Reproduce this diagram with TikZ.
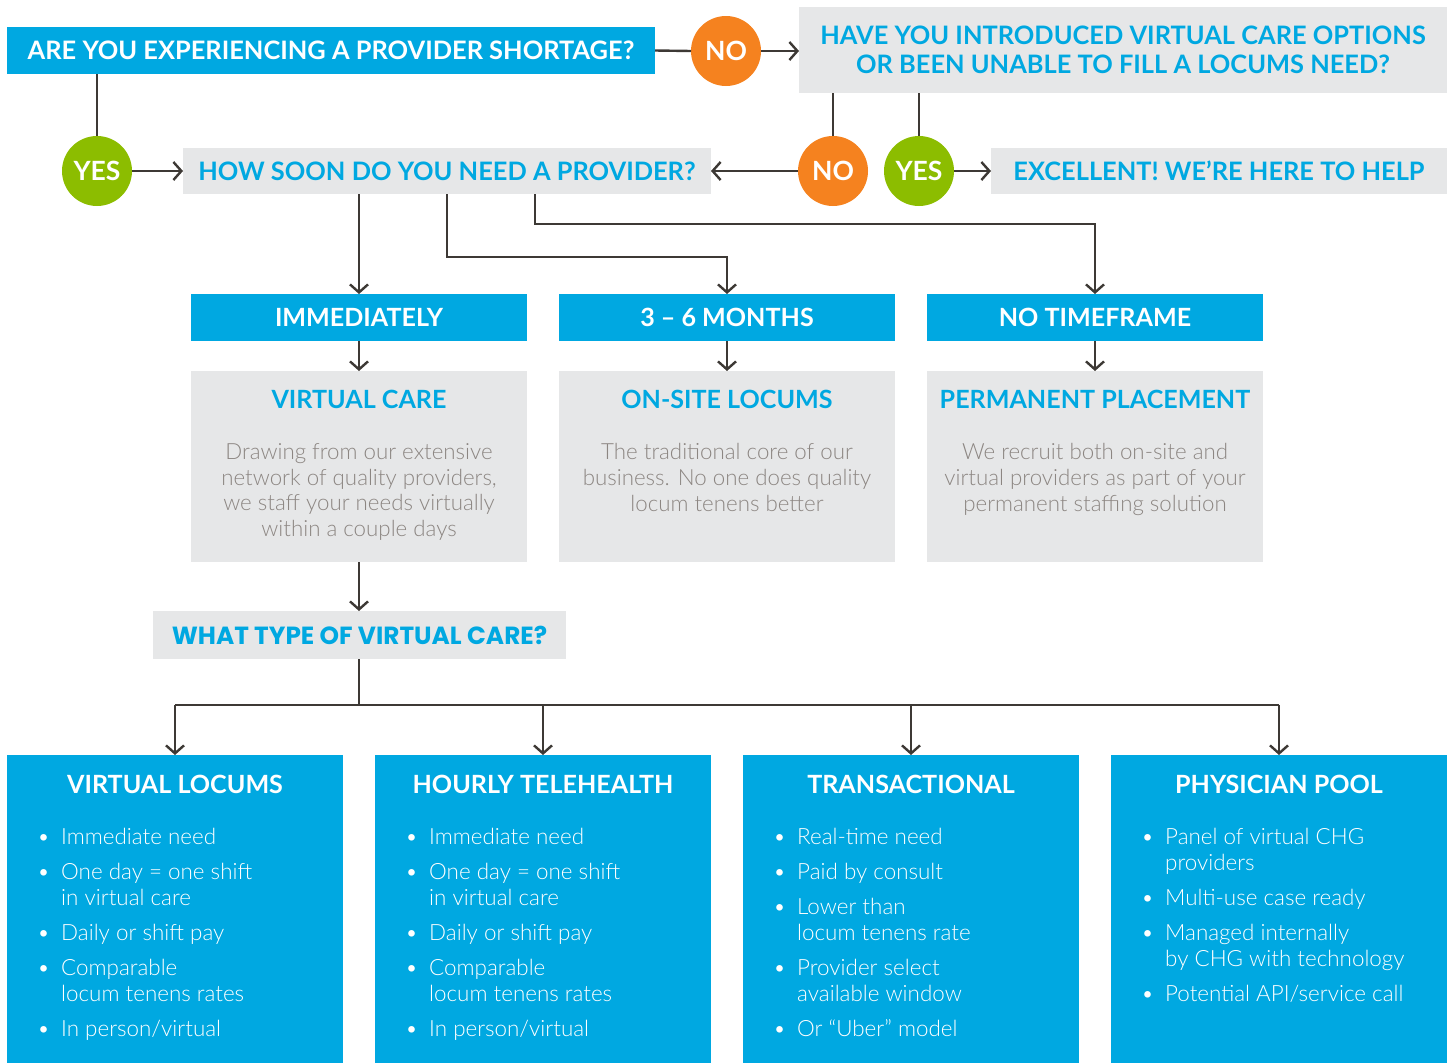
\documentclass[tikz,border=0pt]{standalone}
\usepackage{fontspec}
\setmainfont{Lato}
\IfFontExistsTF{Lato Light}{\newfontfamily\lightfam{Lato Light}}{\newfontfamily\lightfam{Lato}}
\newfontfamily\wtfam{Poppins}
\usetikzlibrary{arrows.meta}
\definecolor{cblue}{HTML}{00A8E1}
\definecolor{cgray}{HTML}{E6E7E8}
\definecolor{corange}{HTML}{F5821F}
\definecolor{cgreen}{HTML}{8CBD00}
\definecolor{ctext}{HTML}{8C8682}
\definecolor{cline}{HTML}{3D3935}
\newcommand\hdfont{\bfseries\fontsize{25.4}{29}\selectfont}
\newcommand\smhdfont{\bfseries\fontsize{25.1}{28}\selectfont}
\newcommand\ccfont{\bfseries\fontsize{26.5}{28}\selectfont}
\newcommand\dscfont{\lightfam\fontsize{22.3}{25.6}\selectfont}
\newcommand\bulfont{\lightfam\fontsize{22.4}{26}\selectfont}
\newcommand\wtfont{\wtfam\bfseries\fontsize{24.8}{26}\selectfont}
\newcommand\bl{\makebox[24pt][l]{\textbullet}}
\newcommand\ind{\hspace*{24pt}}
\tikzset{
  box/.style={rectangle, inner sep=0pt, outer sep=0pt},
  bluebox/.style={box, fill=cblue, text=white, font=\hdfont},
  graybox/.style={box, fill=cgray, text=cblue, font=\hdfont},
  dot/.style={circle, minimum size=70pt, inner sep=0pt, outer sep=0pt, text=white, font=\ccfont},
  noc/.style={dot, fill=corange},
  yesc/.style={dot, fill=cgreen},
  conn/.style={draw=cline, line width=2.4pt},
  arr/.style={conn, -{Straight Barb[length=8pt,width=18pt]}},
  dtitle/.style={text=cblue, font=\smhdfont, inner sep=0pt},
  dbody/.style={text=ctext, font=\dscfont, align=center, inner sep=0pt, anchor=north},
  btitle/.style={text=white, font=\smhdfont, inner sep=0pt},
  bbody/.style={text=white, font=\bulfont, align=left, inner sep=0pt, anchor=north west},
}
\begin{document}
\begin{tikzpicture}[x=1pt,y=-1pt]
\useasboundingbox (0,0) rectangle (1450,1063);
% top row
\node[bluebox, minimum width=648pt, minimum height=47pt] (q1) at (331,50.5) {ARE YOU EXPERIENCING A PROVIDER SHORTAGE?};
\node[noc] (no1) at (726,51) {NO};
\node[graybox, minimum width=648pt, minimum height=86pt, align=center] (q2) at (1123,50) {HAVE YOU INTRODUCED VIRTUAL CARE OPTIONS\\OR BEEN UNABLE TO FILL A LOCUMS NEED?};
% second row
\node[yesc] (yes1) at (97,171) {YES};
\node[graybox, minimum width=528pt, minimum height=46pt] (q3) at (447,171) {HOW SOON DO YOU NEED A PROVIDER?};
\node[noc] (no2) at (833,171) {NO};
\node[yesc] (yes2) at (919,171) {YES};
\node[graybox, minimum width=456pt, minimum height=46pt] (q4) at (1219,171) {EXCELLENT! WE’RE HERE TO HELP};
% timeframe row
\node[bluebox, font=\smhdfont, minimum width=336pt, minimum height=47pt] (t1) at (359,317.5) {IMMEDIATELY};
\node[bluebox, font=\smhdfont, minimum width=336pt, minimum height=47pt] (t2) at (727,317.5) {3 – 6 MONTHS};
\node[bluebox, font=\smhdfont, minimum width=336pt, minimum height=47pt] (t3) at (1095,317.5) {NO TIMEFRAME};
% description boxes
\node[box, fill=cgray, minimum width=336pt, minimum height=191pt] (d1) at (359,466.5) {};
\node[box, fill=cgray, minimum width=336pt, minimum height=191pt] (d2) at (727,466.5) {};
\node[box, fill=cgray, minimum width=336pt, minimum height=191pt] (d3) at (1095,466.5) {};
\node[dtitle] (d1t) at (359,399) {VIRTUAL CARE};
\node[dtitle] (d2t) at (727,399) {ON-SITE LOCUMS};
\node[dtitle] (d3t) at (1095,399) {PERMANENT PLACEMENT};
\node[dbody] (d1b) at (359,443.5) {Drawing from our extensive\\network of quality providers,\\we staff your needs virtually\\within a couple days};
\node[dbody] (d2b) at (727,443.5) {The traditional core of our\\business. No one does quality\\locum tenens better};
\node[dbody] (d3b) at (1095,443.5) {We recruit both on-site and\\virtual providers as part of your\\permanent staffing solution};
% what type
\node[graybox, font=\wtfont, minimum width=413pt, minimum height=48pt] (q5) at (359.5,635) {WHAT TYPE OF VIRTUAL CARE?};
% bottom boxes
\node[box, fill=cblue, minimum width=336pt, minimum height=308pt] (b1) at (175,909) {};
\node[box, fill=cblue, minimum width=336pt, minimum height=308pt] (b2) at (543,909) {};
\node[box, fill=cblue, minimum width=336pt, minimum height=308pt] (b3) at (911,909) {};
\node[box, fill=cblue, minimum width=336pt, minimum height=308pt] (b4) at (1279,909) {};
\node[btitle] (b1t) at (175,784) {VIRTUAL LOCUMS};
\node[btitle] (b2t) at (543,784) {HOURLY TELEHEALTH};
\node[btitle] (b3t) at (911,784) {TRANSACTIONAL};
\node[btitle] (b4t) at (1279,784) {PHYSICIAN POOL};
\node[bbody] (b1b) at (37,827.5) {\bl Immediate need\\[9pt]\bl One day = one shift\\\ind in virtual care\\[9pt]\bl Daily or shift pay\\[9pt]\bl Comparable\\\ind locum tenens rates\\[9pt]\bl In person/virtual};
\node[bbody] (b2b) at (405,827.5) {\bl Immediate need\\[9pt]\bl One day = one shift\\\ind in virtual care\\[9pt]\bl Daily or shift pay\\[9pt]\bl Comparable\\\ind locum tenens rates\\[9pt]\bl In person/virtual};
\node[bbody] (b3b) at (773,827.5) {\bl Real-time need\\[9pt]\bl Paid by consult\\[9pt]\bl Lower than\\\ind locum tenens rate\\[9pt]\bl Provider select\\\ind available window\\[9pt]\bl Or “Uber” model};
\node[bbody] (b4b) at (1141,827.5) {\bl Panel of virtual CHG\\\ind providers\\[9pt]\bl Multi-use case ready\\[9pt]\bl Managed internally\\\ind by CHG with technology\\[9pt]\bl Potential API/service call};
% helper coordinates
\coordinate (k1) at (447,257);
\coordinate (k2) at (535,224);
\coordinate (k3) at (359,705);
% connectors
\draw[conn] (q1.east) -- (no1.west);
\draw[arr] (no1.east) -- (no1.east -| q2.west);
\draw[conn] (yes1 |- q1.south) -- (yes1.north);
\draw[arr] (yes1.east) -- (q3.west);
\draw[conn] (no2 |- q2.south) -- (no2.north);
\draw[conn] (yes2 |- q2.south) -- (yes2.north);
\draw[arr] (no2.west) -- (q3.east);
\draw[arr] (yes2.east) -- (q4.west);
\draw[arr] (t1 |- q3.south) -- (t1.north);
\draw[arr] (q3.south) -- (k1) -| (t2.north);
\draw[arr] (k2 |- q3.south) -- (k2) -| (t3.north);
\draw[arr] (t1.south) -- (d1.north);
\draw[arr] (t2.south) -- (d2.north);
\draw[arr] (t3.south) -- (d3.north);
\draw[arr] (d1.south) -- (d1.south |- q5.north);
\draw[conn] (q5.south -| k3) -- (k3);
\draw[conn] (b1.north |- k3) -- (b4.north |- k3);
\draw[arr] (b1.north |- k3) -- (b1.north);
\draw[arr] (b2.north |- k3) -- (b2.north);
\draw[arr] (b3.north |- k3) -- (b3.north);
\draw[arr] (b4.north |- k3) -- (b4.north);
\end{tikzpicture}
\end{document}
